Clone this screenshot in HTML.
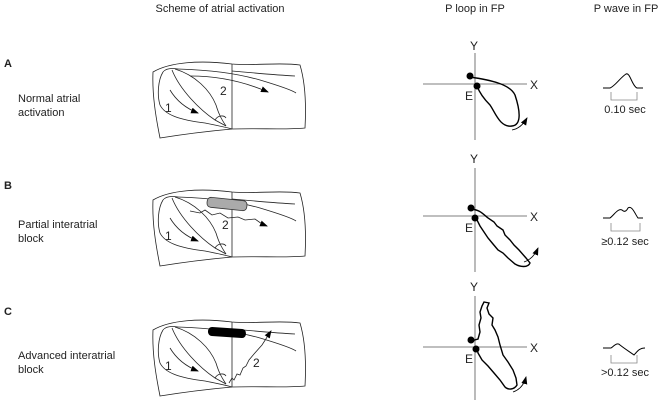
<!DOCTYPE html>
<html><head><meta charset="utf-8"><style>
html,body{margin:0;padding:0;background:#fff;}
svg{display:block;font-family:"Liberation Sans",sans-serif;}
</style></head><body>
<svg width="659" height="401" viewBox="0 0 659 401" xmlns="http://www.w3.org/2000/svg">
<defs>
<marker id="ah" markerWidth="8" markerHeight="6" refX="7" refY="3" orient="auto" markerUnits="userSpaceOnUse"><path d="M0,0 L8,3 L0,6 Z" fill="#000"/></marker>
<g id="heart" fill="none" stroke="#222" stroke-width="0.8">
<path d="M153,72 C170,62 200,60 232,64 C255,66 280,62 300,65 C306,85 306,110 305,128 C285,130 260,128 232,129 C210,131 185,134 160,138 C156,118 152,95 153,72 Z"/>
<path d="M232,64 L232,129"/>
<path d="M163,72 C158,80 157,95 160,105 C165,115 180,120 205,123 C215,125 225,127 232,129"/>
<path d="M163,72 C166,68 172,68 178,69"/>
<path d="M172,70 C180,90 200,110 215,120 L226,126"/>
<path d="M175,69 C195,75 210,90 216,105 C219,115 222,120 226,126"/>
<path d="M215,120 C218,115 224,115 226,118"/>
<path d="M178,69 C210,70 235,73 260,80 C280,86 292,90 296,93"/>
<path d="M232,71 C255,73 275,75 295,76"/>
</g>
</defs>

<g font-size="11" fill="#222">
<text x="220" y="12" text-anchor="middle">Scheme of atrial activation</text>
<text x="475" y="12" text-anchor="middle">P loop in FP</text>
<text x="626" y="12" text-anchor="middle">P wave in FP</text>
<text x="4" y="67" font-weight="bold">A</text>
<text x="18" y="102">Normal atrial</text>
<text x="18" y="116">activation</text>
<text x="4" y="189" font-weight="bold">B</text>
<text x="18" y="228">Partial interatrial</text>
<text x="18" y="242">block</text>
<text x="4" y="315" font-weight="bold">C</text>
<text x="18" y="359">Advanced interatrial</text>
<text x="18" y="373">block</text>
</g>

<!-- Row A scheme -->
<use href="#heart"/>
<g fill="none" stroke="#222" stroke-width="0.8">
<path d="M170,90 C176,100 185,108 198,113" marker-end="url(#ah)"/>
<path d="M190,76 C220,76 245,82 268,92" marker-end="url(#ah)"/>
</g>
<text x="165" y="112" font-size="12" fill="#222">1</text>
<text x="220" y="95" font-size="12" fill="#222">2</text>

<!-- Row B scheme -->
<use href="#heart" transform="translate(0,128)"/>
<rect x="207" y="199" width="40" height="10" rx="4" fill="#aaa" stroke="#333" stroke-width="0.8" transform="rotate(6 227 204)"/>
<g fill="none" stroke="#222" stroke-width="0.8">
<path d="M170,218 C176,228 185,236 198,241" marker-end="url(#ah)"/>
<path d="M190,211 L200,213 L205,210 L212,215 L220,213 L228,218 L238,217 L245,220 L255,219 L262,224 L267,226" marker-end="url(#ah)"/>
</g>
<text x="165" y="240" font-size="12" fill="#222">1</text>
<text x="222" y="229" font-size="12" fill="#222">2</text>

<!-- Row C scheme -->
<use href="#heart" transform="translate(0,258)"/>
<rect x="208" y="328" width="38" height="9" rx="4" fill="#000" transform="rotate(4 227 332)"/>
<g fill="none" stroke="#222" stroke-width="0.8">
<path d="M170,348 C176,358 185,366 198,371" marker-end="url(#ah)"/>
<path d="M229,383 L232,378 L234,380 L237,374 L240,375 L243,368 L246,366 L249,360 L254,354 L262,345 L271,331" marker-end="url(#ah)"/>
</g>
<text x="165" y="370" font-size="12" fill="#222">1</text>
<text x="253" y="367" font-size="12" fill="#222">2</text>

<!-- Loops -->
<g stroke="#555" stroke-width="0.8" fill="none">
<path d="M475,53 V140 M423,84 H527"/>
<path d="M475,168 V272 M423,216 H527"/>
<path d="M475,296 V400 M423,347 H527"/>
</g>
<g font-size="12" fill="#222">
<text x="470" y="50">Y</text><text x="530" y="89">X</text><text x="465" y="100">E</text>
<text x="470" y="163">Y</text><text x="530" y="221">X</text><text x="465" y="232">E</text>
<text x="470" y="291">Y</text><text x="530" y="352">X</text><text x="465" y="363">E</text>
</g>
<g fill="none" stroke="#000" stroke-width="1.4">
<path d="M470,77 C490,80 510,84 515,95 C520,110 522,125 512,126 C500,128 495,112 490,105 C485,100 480,94 477,86"/>
<path d="M471,209 C480,210 482,213 488,218 L494,222 L497,226 L503,230 L505,235 L510,240 L514,245 L519,250 L526,258 L530,263 C528,268 520,267 515,264 L508,258 L503,253 L498,250 L493,244 L488,238 L484,232 L480,226 L477,220"/>
<path d="M471,341 L478,339 L480,332 L479,325 L481,318 L480,312 L482,306 L484,302 L489,303 L487,308 L489,314 L493,318 L492,325 L495,330 L498,337 L500,345 L503,355 L508,362 L513,370 L516,378 L517,385 C514,390 508,390 505,387 L500,380 L494,373 L488,366 L482,360 L478,353 L477,347"/>
</g>
<g fill="none" stroke="#000" stroke-width="0.8">
<path d="M512,130 C518,129 523,125 527,118" marker-end="url(#ah)"/>
<path d="M524,262 C530,260 535,255 538,248" marker-end="url(#ah)"/>
<path d="M513,392 C519,390 524,385 526,377" marker-end="url(#ah)"/>
</g>
<g fill="#000">
<circle cx="470" cy="76" r="3.5"/><circle cx="477" cy="86" r="3.5"/>
<circle cx="471" cy="208" r="3.5"/><circle cx="475" cy="218" r="3.5"/>
<circle cx="471" cy="340" r="3.5"/><circle cx="476" cy="349" r="3.5"/>
</g>

<!-- P waves -->
<g fill="none" stroke="#000" stroke-width="1">
<path d="M603,88 L610,88 C615,86 620,78 626,74 C630,72 632,86 637,88 L643,88"/>
<path d="M603,218 L610,218 C614,215 618,208 622,210 C624,212 626,212 628,208 C632,205 635,214 638,218 L643,218"/>
<path d="M603,348 L611,348 C614,346 617,342 620,345 C625,349 630,352 634,355 C637,352 639,348 645,348"/>
</g>
<g fill="none" stroke="#888" stroke-width="0.8">
<path d="M611,92 V100 H637 V92"/>
<path d="M611,223 V231 H640 V223"/>
<path d="M611,355 V363 H637 V355"/>
</g>
<g font-size="11" fill="#222" text-anchor="middle">
<text x="625" y="113">0.10 sec</text>
<text x="625" y="245">≥0.12 sec</text>
<text x="625" y="376">&gt;0.12 sec</text>
</g>
</svg>
</body></html>
